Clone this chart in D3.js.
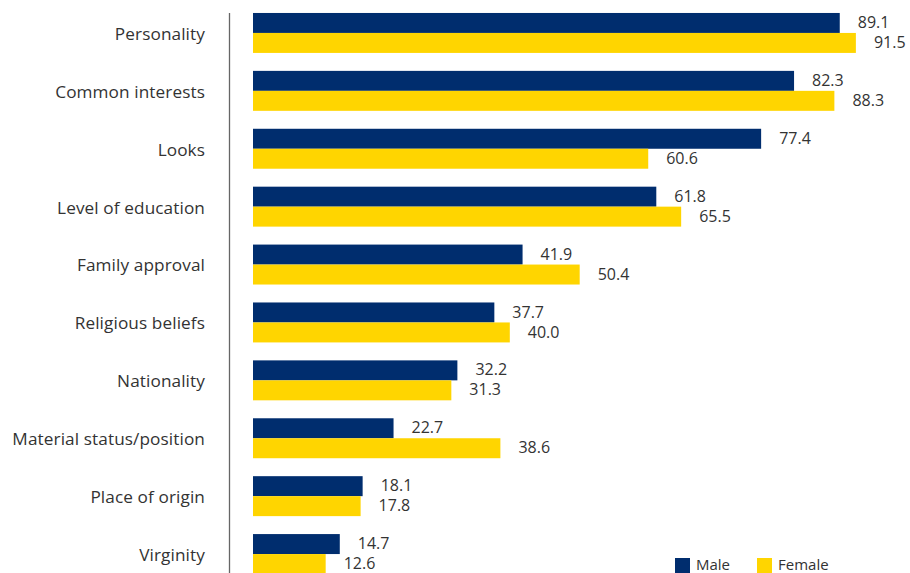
<!DOCTYPE html>
<html><head><meta charset="utf-8">
<script src="https://cdn.jsdelivr.net/npm/d3@7"></script>
<style>body{margin:0;background:#fff}svg{display:block}text{font-family:"Open Sans",sans-serif;fill:#333}</style>
</head><body><svg id="c" width="910" height="573"></svg>
<script>
const categories = ["Personality","Common interests","Looks","Level of education","Family approval","Religious beliefs","Nationality","Material status/position","Place of origin","Virginity"];
const male = [89.1,82.3,77.4,61.8,41.9,37.7,32.2,22.7,18.1,14.7];
const female = [91.5,88.3,60.6,65.5,50.4,40.0,31.3,38.6,17.8,12.6];
const seriesNames = ["Male","Female"];
const colors = ["#002d6e","#ffd500"];

const svg = d3.select("#c");
const x = d3.scaleLinear().domain([0,100]).range([241, 241+672]);
const barStart = 253;
const y = d3.scaleBand().domain(categories).range([4, 4+57.9*10]).paddingInner(0.31).paddingOuter(0.155);
const sub = d3.scaleBand().domain(seriesNames).range([0, y.bandwidth()]);

svg.append("line").attr("x1",229.5).attr("x2",229.5).attr("y1",13).attr("y2",573).attr("stroke","#666").attr("stroke-width",1.3);

const g = svg.selectAll("g.cat").data(categories).join("g").attr("transform",d=>`translate(0,${y(d)})`);
g.append("text").attr("x",205).attr("y",y.bandwidth()/2).attr("dy","0.4em").attr("text-anchor","end").attr("font-size",17.2).attr("letter-spacing","0.1").text(d=>d);
[male,female].forEach((vals,si)=>{
  g.append("rect").attr("x",barStart).attr("y",sub(seriesNames[si])).attr("height",sub.bandwidth()).attr("width",(d,i)=>x(vals[i])-barStart).attr("fill",colors[si]);
  g.append("text").attr("x",(d,i)=>x(vals[i])+18).attr("y",sub(seriesNames[si])+sub.bandwidth()/2).attr("dy","0.32em").attr("font-size",16).text((d,i)=>vals[i].toFixed(1));
});

const lx=[675,757];
seriesNames.forEach((n,i)=>{
  svg.append("rect").attr("x",lx[i]).attr("y",558).attr("width",15).attr("height",15).attr("fill",colors[i]);
  svg.append("text").attr("x",lx[i]+21).attr("y",565).attr("dy","0.33em").attr("font-size",15).text(n);
});
</script></body></html>
